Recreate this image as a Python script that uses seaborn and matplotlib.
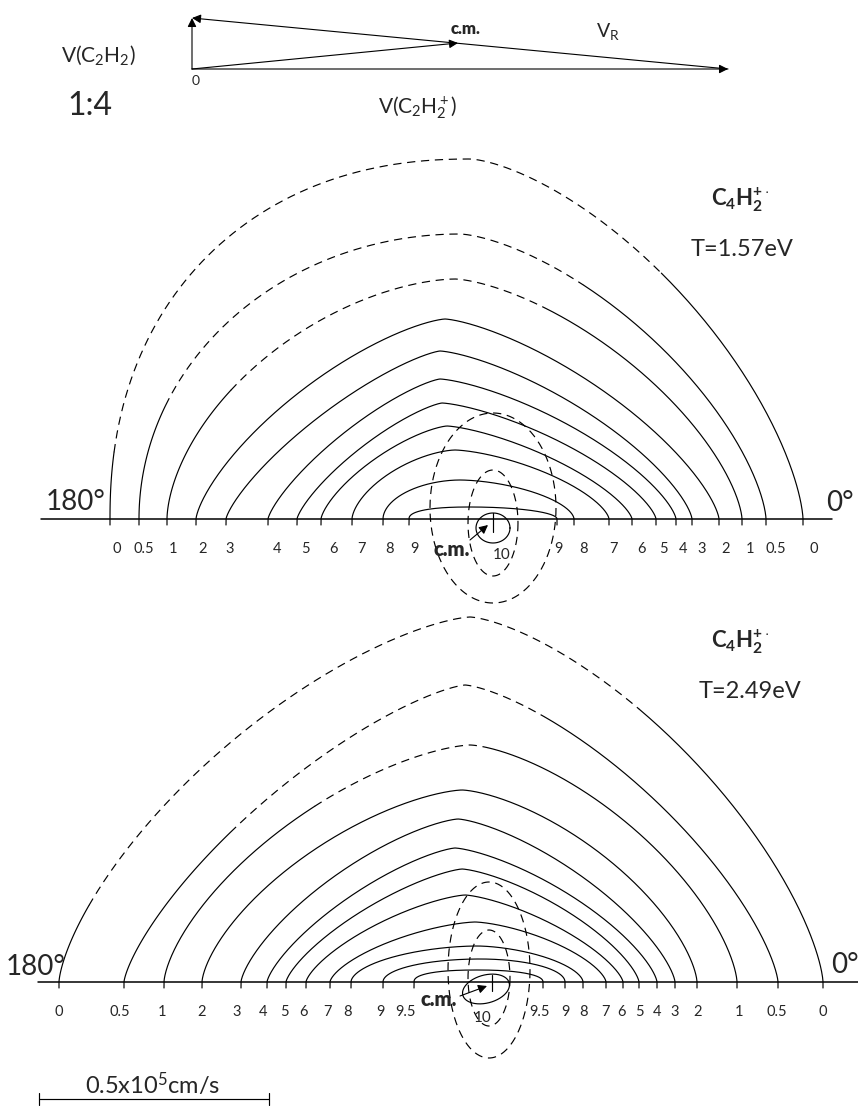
import numpy as np
import pandas as pd
import seaborn as sns
import matplotlib.pyplot as plt

sns.set_style('white')
plt.rcParams['font.family'] = ['Lato', 'DejaVu Sans']
plt.rcParams['mathtext.fontset'] = 'custom'
plt.rcParams['mathtext.rm'] = 'Lato'
plt.rcParams['mathtext.bf'] = 'Lato:bold'
plt.rcParams['mathtext.it'] = 'Lato'

# ---- values (pixel units of the original figure) ----
# upper map, T = 1.57 eV
top_levels = ['0', '0.5', '1', '2', '3', '4', '5', '6', '7', '8', '9']
top_left = [110, 139, 167, 196, 226, 268, 297, 321, 352, 383, 409]
top_right = [803, 766, 742, 719, 692, 676, 656, 632, 609, 574, 557]
top_peak_x = [470, 460, 455, 445, 440, 440, 442, 447, 455, 460, 470]
top_peak_h = [360, 285, 240, 200, 168, 140, 116, 93, 69, 39, 12]
top_p_left = [2.2, 2.0, 1.7, 1.4, 1.3, 1.3, 1.3, 1.4, 1.6, 1.9, 2.4]
top_p_right = [1.5, 1.5, 1.5, 1.4, 1.4, 1.4, 1.4, 1.4, 1.5, 1.7, 2.0]
top_dash_lo = [114, 165, 230]
top_dash_hi = [663, 585, 545]
top_lbl_left = [117, 144, 173, 203, 230, 277, 305, 334, 362, 390, 414]
top_lbl_right = [814, 776, 750, 726, 702, 683, 663, 641, 613, 583, 558]

# lower map, T = 2.49 eV
bot_levels = ['0', '0.5', '1', '2', '3', '4', '5', '6', '7', '8', '9', '9.5']
bot_left = [59, 124, 164, 202, 241, 267, 286, 306, 330, 351, 383, 414]
bot_right = [823, 778, 737, 697, 675, 657, 639, 623, 606, 583, 565, 543]
bot_peak_x = [470, 465, 470, 462, 458, 455, 462, 465, 475, 477, 480, 478]
bot_peak_h = [365, 297, 237, 192, 163, 134, 113, 87, 60, 36, 23, 12]
bot_p_left = [1.45, 1.35, 1.5, 1.5, 1.4, 1.35, 1.35, 1.4, 1.5, 1.8, 2.0, 2.4]
bot_p_right = [1.45, 1.4, 1.5, 1.5, 1.4, 1.4, 1.4, 1.4, 1.5, 1.7, 2.0, 2.2]
bot_dash_lo = [88, 230, 313]
bot_dash_hi = [640, 545, 488]
bot_lbl_left = [59, 120, 162, 202, 237, 263, 284, 303, 327, 348, 380, 405]
bot_lbl_right = [823, 777, 739, 698, 675, 657, 639, 622, 605, 584, 565, 540]

# c.m. region: (x0, y0, half width, half height, tilt deg)
top_cm_dashed = [(493, 508, 63, 95, 0), (493, 523, 25, 53, 0)]
top_cm_solid = (493, 528, 17, 15, 0)
bot_cm_dashed = [(489, 970, 41, 88, 0), (489, 978, 21, 48, 0)]
bot_cm_solid = (486, 989, 24, 14, 15)

# Newton diagram
origin = (192, 69)
v_neutral_tip = (192, 18)
v_ion_tip = (728, 69)
cm_point = (458, 43)

fig = plt.figure(figsize=(8.58, 11.06), dpi=100)
ax = fig.add_axes([0, 0, 1, 1])
ax.set_xlim(0, 858)
ax.set_ylim(1106, 0)
ax.axis('off')

LW = 0.85
DASH = (0, (7, 4.8))


def draw(x, y, ls='-'):
    df = pd.DataFrame({'x': x, 'y': y})
    sns.lineplot(data=df, x='x', y='y', sort=False, estimator=None, ax=ax,
                 color='black', lw=LW, linestyle=ls)


def contour(xl, xr, xp, h, pl, pr, base):
    phi = np.linspace(np.pi, 0, 500)
    c, s = np.cos(phi), np.sin(phi)
    p = np.where(c < 0, pl, pr)
    fx = np.sign(c) * np.abs(c) ** (2 / p)
    fy = np.abs(s) ** (2 / p)
    x = np.where(fx < 0, xp + fx * (xp - xl), xp + fx * (xr - xp))
    y = base - h * fy
    x = np.concatenate([[xl], x, [xr]])
    y = np.concatenate([[base + 6], y, [base + 6]])
    return x, y


def ellipse(x0, y0, a, b, tilt):
    t = np.linspace(0, 2 * np.pi, 300)
    r = np.deg2rad(tilt)
    ex, ey = a * np.cos(t), b * np.sin(t)
    return x0 + ex * np.cos(r) + ey * np.sin(r), y0 - ex * np.sin(r) + ey * np.cos(r)


def panel(levels, left, right, peak_x, peak_h, pl, pr, dlo, dhi, lleft, lright,
          base, x_from, x_to, cm_dashed, cm_solid):
    ax.plot([x_from, x_to], [base, base], color='black', lw=1.1)
    for i in range(len(levels)):
        x, y = contour(left[i], right[i], peak_x[i], peak_h[i], pl[i], pr[i], base)
        if i < len(dlo):
            idx = np.where((x >= dlo[i]) & (x <= dhi[i]))[0]
            a, b = idx[0], idx[-1]
            draw(x[:a + 1], y[:a + 1])
            draw(x[a:b + 1], y[a:b + 1], DASH)
            draw(x[b:], y[b:])
        else:
            draw(x, y)
        ax.text(lleft[i], base + 30, levels[i], ha='center', va='center', fontsize=10.5)
        ax.text(lright[i], base + 30, levels[i], ha='center', va='center', fontsize=10.5)
    for e in cm_dashed:
        ex, ey = ellipse(*e)
        draw(ex, ey, DASH)
    ex, ey = ellipse(*cm_solid)
    draw(ex, ey)


panel(top_levels, top_left, top_right, top_peak_x, top_peak_h, top_p_left,
      top_p_right, top_dash_lo, top_dash_hi, top_lbl_left, top_lbl_right,
      519, 41, 832, top_cm_dashed, top_cm_solid)
panel(bot_levels, bot_left, bot_right, bot_peak_x, bot_peak_h, bot_p_left,
      bot_p_right, bot_dash_lo, bot_dash_hi, bot_lbl_left, bot_lbl_right,
      982, 38, 858, bot_cm_dashed, bot_cm_solid)

arrow = dict(arrowstyle='-|>', mutation_scale=13, lw=0.8, color='black',
             shrinkA=0, shrinkB=0)

# c.m. markers in the maps
for cx, y0, y1, tail, head, lbl, ten in [
        (493, 513, 532, (470, 540), (488, 525), (452, 549), (502, 555)),
        (492, 975, 991, (460, 996), (487, 986), (439, 999), (483, 1018))]:
    ax.plot([cx, cx], [y0, y1], color='black', lw=LW)
    ax.annotate('', xy=head, xytext=tail, arrowprops=arrow)
    ax.text(*lbl, 'c.m.', ha='center', va='center', fontsize=14.5, fontweight='heavy')
    ax.text(*ten, '10', ha='center', va='center', fontsize=11)

# Newton diagram
ax.annotate('', xy=v_neutral_tip, xytext=origin, arrowprops=arrow)
ax.annotate('', xy=v_ion_tip, xytext=origin, arrowprops=arrow)
ax.annotate('', xy=cm_point, xytext=origin, arrowprops=arrow)
ax.annotate('', xy=v_neutral_tip, xytext=v_ion_tip, arrowprops=arrow)
ax.text(466, 29, 'c.m.', ha='center', va='center', fontsize=12, fontweight='heavy')
ax.text(608, 31, r'V$_R$', ha='center', va='center', fontsize=14)
ax.text(196, 81, '0', ha='center', va='center', fontsize=10)
ax.text(98, 55, r'V(C$_2$H$_2$)', ha='center', va='center', fontsize=15)
ax.text(90, 106, '1:4', ha='center', va='center', fontsize=23)
ax.text(418, 108, r'V(C$_2$H$_2^+$)', ha='center', va='center', fontsize=15)

# panel annotations
ax.text(740, 200, r'$\mathbf{C_4H_2^{+\cdot}}$', ha='center', va='center', fontsize=16)
ax.text(742, 250, 'T=1.57eV', ha='center', va='center', fontsize=17)
ax.text(740, 642, r'$\mathbf{C_4H_2^{+\cdot}}$', ha='center', va='center', fontsize=16)
ax.text(750, 692, 'T=2.49eV', ha='center', va='center', fontsize=17)
ax.text(76, 502, '180°', ha='center', va='center', fontsize=20)
ax.text(840, 503, '0°', ha='center', va='center', fontsize=20)
ax.text(36, 967, '180°', ha='center', va='center', fontsize=20)
ax.text(845, 965, '0°', ha='center', va='center', fontsize=20)

# velocity scale
ax.plot([39, 269], [1099, 1099], color='black', lw=LW)
ax.plot([39, 39], [1093, 1105], color='black', lw=LW)
ax.plot([269, 269], [1093, 1105], color='black', lw=LW)
ax.text(153, 1084, r'0.5x10$^5$cm/s', ha='center', va='center', fontsize=17)

fig.savefig('out.png', dpi=100)
